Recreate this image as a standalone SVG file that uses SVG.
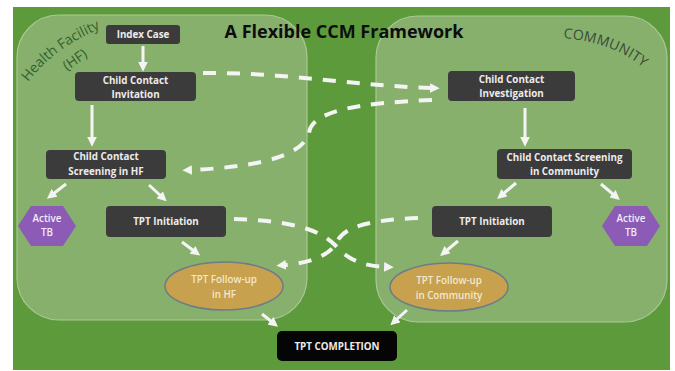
<svg xmlns="http://www.w3.org/2000/svg" width="675" height="371" viewBox="0 0 675 371">
  <defs>
    <style>
      .panel { fill: #87b06d; stroke: #a9c994; stroke-width: 1.2; }
      .box { fill: #3c3b3b; }
      .lbl { font-family: "Open Sans", "Liberation Sans", sans-serif; font-weight: bold; font-size: 9.8px; fill: #ececec; text-anchor: middle; }
      .ell { fill: #c8a14f; stroke: #6d7c88; stroke-width: 1.5; }
      .elbl { font-family: "Open Sans", "Liberation Sans", sans-serif; font-weight: 600; font-size: 9.8px; fill: #f3e8cc; text-anchor: middle; }
      .hex { fill: #8b5bb6; }
      .hlbl { font-family: "Open Sans", "Liberation Sans", sans-serif; font-weight: 600; font-size: 9.8px; fill: #f2ecf8; text-anchor: middle; }
      .solid { fill: none; stroke: #f4f4f4; stroke-width: 3; marker-end: url(#ah); }
      .dash { fill: none; stroke: #f4f4f4; stroke-width: 4; stroke-dasharray: 13 11; marker-end: url(#dh); }
      .area { font-family: "Open Sans", "Liberation Sans", sans-serif; font-size: 14px; }
    </style>
    <marker id="ah" viewBox="0 0 10 10" refX="2" refY="5" markerWidth="3.2" markerHeight="3.2" orient="auto" markerUnits="strokeWidth">
      <path d="M0,0 L10,5 L0,10 Z" fill="#f4f4f4"/>
    </marker>
    <marker id="dh" viewBox="0 0 10 10" refX="2" refY="5" markerWidth="2.4" markerHeight="2.4" orient="auto" markerUnits="strokeWidth">
      <path d="M0,0 L10,5 L0,10 Z" fill="#f4f4f4"/>
    </marker>
  </defs>

  <rect x="0" y="0" width="675" height="371" fill="#ffffff"/>
  <rect x="13" y="7" width="657" height="363" fill="#5d9a3c"/>

  <g id="panel-hf">
    <rect class="panel" x="17" y="15" width="290" height="305" rx="42"/>
    <path id="hfArc" d="M28,82 Q58,42 118,22" fill="none"/>
    <text class="area" fill="#34622f"><textPath href="#hfArc">Health Facility</textPath></text>
    <text class="area" fill="#34622f" transform="translate(67,71) rotate(-35)">(HF)</text>
  </g>
  <g id="panel-community">
    <rect class="panel" x="376" y="16" width="291" height="306" rx="42"/>
    <path id="comArc" d="M563,38 Q624,43 656,80" fill="none"/>
    <text class="area" fill="#3b4a3b" font-size="13.5" letter-spacing="0.2"><textPath href="#comArc">COMMUNITY</textPath></text>
  </g>

  <text id="title" x="344" y="38" text-anchor="middle" font-family="'Open Sans', 'Liberation Sans', sans-serif" font-weight="bold" font-size="18" fill="#0d0d0d">A Flexible CCM Framework</text>

  <g id="connectors">
    <line class="solid" x1="143" y1="46" x2="143" y2="64"/>
    <line class="solid" x1="92" y1="105" x2="92" y2="139"/>
    <line class="solid" x1="525" y1="108" x2="525" y2="139"/>
    <line class="solid" x1="66" y1="184" x2="53" y2="194"/>
    <line class="solid" x1="149" y1="185" x2="161" y2="196"/>
    <line class="solid" x1="516" y1="183" x2="503" y2="194"/>
    <line class="solid" x1="601" y1="184" x2="614" y2="195"/>
    <line class="solid" x1="182" y1="242" x2="194" y2="251"/>
    <line class="solid" x1="458" y1="241" x2="446" y2="251"/>
    <line class="solid" x1="262" y1="314" x2="272" y2="322"/>
    <line class="solid" x1="407" y1="310" x2="396" y2="320"/>

    <path class="dash" d="M203,73 C280,72 360,86 432,88"/>
    <path class="dash" d="M432,100 C360,103 312,110 309,133 C302,160 240,168 190,170"/>
    <path class="dash" d="M234,219 C300,221 322,232 336,246 C347,259 362,266 386,267"/>
    <path class="dash" d="M418,218 C372,220 346,226 338,240 C330,257 308,263 284,265"/>
  </g>

  <g id="node-index-case">
    <rect class="box" x="106" y="25" width="74" height="19" rx="3"/>
    <text class="lbl" x="143" y="38">Index Case</text>
  </g>
  <g id="node-invitation">
    <rect class="box" x="75" y="72" width="121" height="29" rx="4"/>
    <text class="lbl" x="135.5" y="83.5">Child Contact</text>
    <text class="lbl" x="135.5" y="97.5">Invitation</text>
  </g>
  <g id="node-screening-hf">
    <rect class="box" x="46" y="150" width="120" height="29" rx="4"/>
    <text class="lbl" x="106" y="160">Child Contact</text>
    <text class="lbl" x="106" y="175">Screening in HF</text>
  </g>
  <g id="node-investigation">
    <rect class="box" x="448" y="71" width="127" height="30" rx="4"/>
    <text class="lbl" x="511.5" y="82.5">Child Contact</text>
    <text class="lbl" x="511.5" y="97">Investigation</text>
  </g>
  <g id="node-screening-community">
    <rect class="box" x="497" y="149" width="135" height="30" rx="4"/>
    <text class="lbl" x="564.5" y="160.5">Child Contact Screening</text>
    <text class="lbl" x="564.5" y="175">in Community</text>
  </g>
  <g id="node-tpt-init-hf">
    <rect class="box" x="106" y="206" width="120" height="31" rx="4"/>
    <text class="lbl" x="166" y="224.5">TPT Initiation</text>
  </g>
  <g id="node-tpt-init-community">
    <rect class="box" x="432" y="206" width="120" height="31" rx="4"/>
    <text class="lbl" x="492" y="224.5">TPT Initiation</text>
  </g>
  <g id="node-active-tb-hf">
    <polygon class="hex" points="18,226 31,206 63,206 76,226 63,246 31,246"/>
    <text class="hlbl" x="47" y="222">Active</text>
    <text class="hlbl" x="47" y="236">TB</text>
  </g>
  <g id="node-active-tb-community">
    <polygon class="hex" points="602,226 615,206 647,206 660,226 647,246 615,246"/>
    <text class="hlbl" x="631" y="222">Active</text>
    <text class="hlbl" x="631" y="236">TB</text>
  </g>
  <g id="node-followup-hf">
    <ellipse class="ell" cx="224" cy="286" rx="59" ry="24"/>
    <text class="elbl" x="224" y="283">TPT Follow-up</text>
    <text class="elbl" x="224" y="297.5">in HF</text>
  </g>
  <g id="node-followup-community">
    <ellipse class="ell" cx="449" cy="287" rx="59" ry="24"/>
    <text class="elbl" x="449" y="284">TPT Follow-up</text>
    <text class="elbl" x="449" y="298.5">in Community</text>
  </g>
  <g id="node-completion">
    <rect x="277" y="331" width="120" height="30" rx="5" fill="#050505"/>
    <text class="lbl" x="337" y="349.5" fill="#f0f0f0">TPT COMPLETION</text>
  </g>
</svg>
